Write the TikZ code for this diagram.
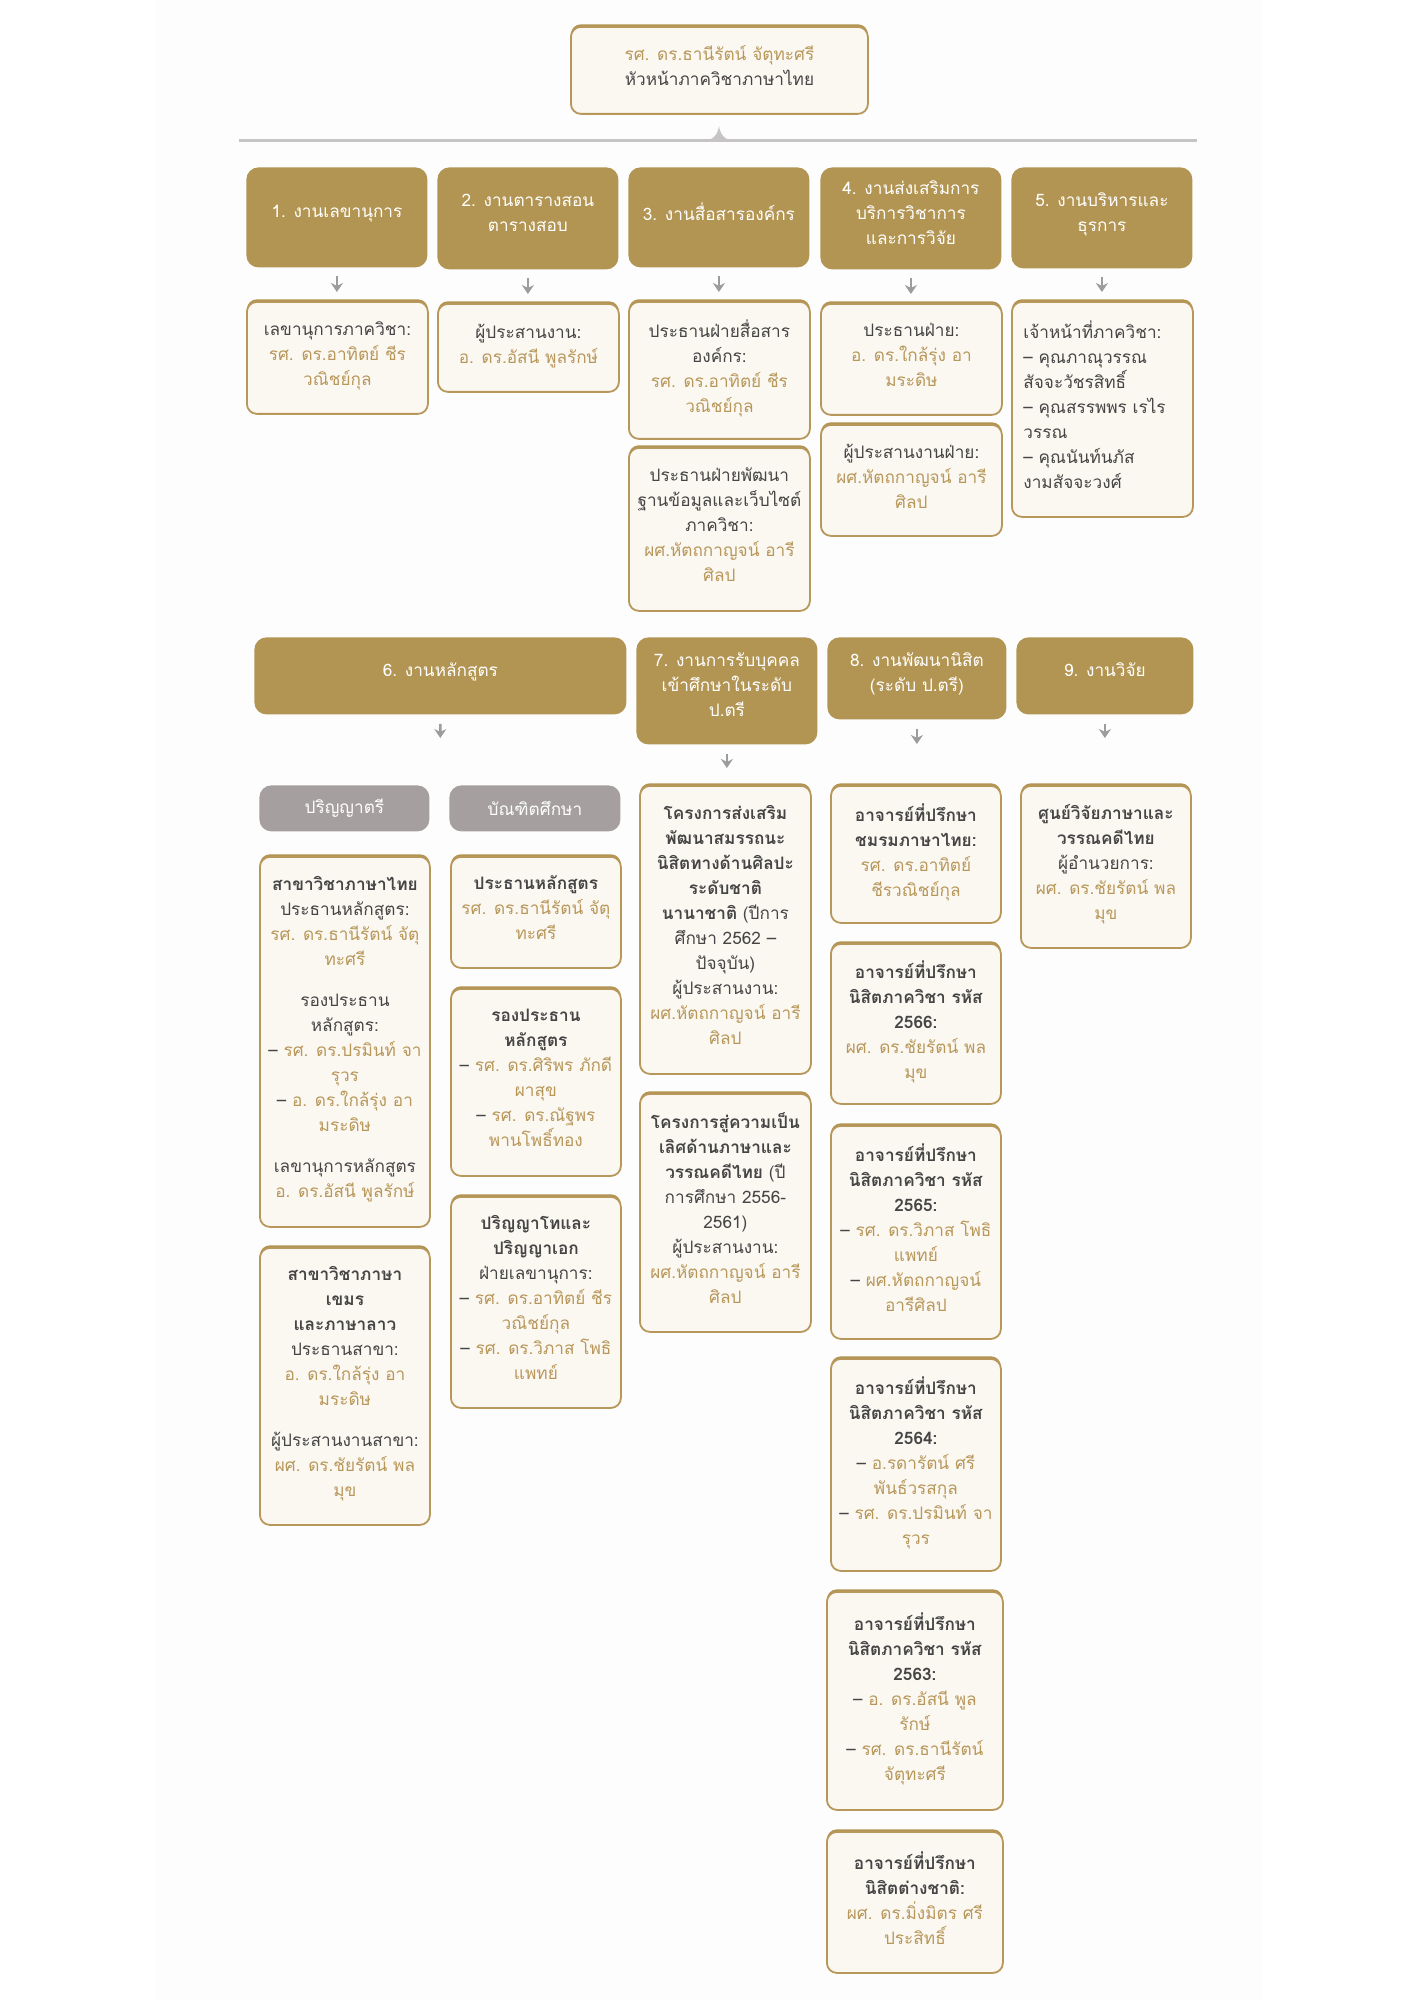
\documentclass[tikz,border=0pt]{standalone}
\usepackage{fontspec}
\setmainfont[Script=Thai]{Loma}
\usetikzlibrary{arrows.meta}
\definecolor{gold}{HTML}{B8975A}
\definecolor{goldD}{HTML}{B39452}
\definecolor{hdr}{HTML}{B39553}
\definecolor{cream}{HTML}{FBF8F2}
\definecolor{ink}{HTML}{454545}
\definecolor{tabgray}{HTML}{A59F9F}
\definecolor{arrgray}{HTML}{9C9C9C}
\definecolor{rulegray}{HTML}{C6C4C4}
\definecolor{panel}{HTML}{FDFDFD}
\newcommand\gd[1]{\textcolor{gold}{#1}}
\newcommand\bd[1]{\textbf{#1}}
\newcommand\cardfont{\fontsize{8.6}{12.5}\selectfont}
\begin{document}
\begin{tikzpicture}[x=0.5pt,y=-0.5pt,
  card/.style={draw=gold, line width=0.9pt, fill=cream, rounded corners=5pt,
    align=center, anchor=north west, inner sep=0pt, text=ink, font=\cardfont,
    execute at end node={\rule[-4.5pt]{0pt}{4.5pt}},
    preaction={fill=goldD, transform canvas={yshift=1.3pt}}},
  hdrbox/.style={fill=hdr, rounded corners=6pt, align=center, anchor=north west,
    inner sep=0pt, text=white, font=\cardfont,
    execute at end node={\rule[-6pt]{0pt}{6pt}}},
  tabbox/.style={fill=tabgray, rounded corners=6pt, align=center, anchor=north west,
    inner sep=0pt, text=white, font=\cardfont},
  arr/.style={draw=arrgray, line width=1.3pt, -{Stealth[length=4.5pt,width=6pt]}},
  sz/.style 2 args={minimum width=#1pt, minimum height=#2pt}
]
\useasboundingbox (0,0) rectangle (1414,2000);
\fill[white] (0,0) rectangle (1414,2000);
\fill[panel] (155,0) rectangle (1262,2000);

% top
\node[card, sz={148.5}{43.5}] (top) at (570,26) {\gd{รศ. ดร.ธานีรัตน์ จัตุทะศรี}\\หัวหน้าภาควิชาภาษาไทย};
\coordinate (ruleL) at (239,141);
\coordinate (ruleR) at (1197,141);
\draw[rulegray, line width=1.5pt] (ruleL) -- (ruleR);
\fill[rulegray] (703,141) .. controls (713,141) and (718,134) .. (719,126) .. controls (720,134) and (725,141) .. (735,141) -- cycle;

% row 1 headers
\node[hdrbox, sz={90.5}{50}] (h1) at (246,167) {1. งานเลขานุการ};
\node[hdrbox, sz={90.5}{51}] (h2) at (437,167) {2. งานตารางสอน\\ตารางสอบ};
\node[hdrbox, sz={90.5}{50}] (h3) at (628,167) {3. งานสื่อสารองค์กร};
\node[hdrbox, sz={90.5}{51}] (h4) at (820,167) {4. งานส่งเสริมการ\\บริการวิชาการ\\และการวิจัย};
\node[hdrbox, sz={90.5}{50.5}] (h5) at (1011,167) {5. งานบริหารและ\\ธุรการ};

% row 1 cards
\node[card, sz={90.5}{56}] (c1) at (246,301) {เลขานุการภาควิชา:\\\gd{รศ. ดร.อาทิตย์ ชีร}\\\gd{วณิชย์กุล}};
\node[card, sz={90.5}{44}] (c2) at (437,303) {ผู้ประสานงาน:\\\gd{อ. ดร.อัสนี พูลรักษ์}};
\node[card, sz={90.5}{68.5}] (c3a) at (628,301) {ประธานฝ่ายสื่อสาร\\องค์กร:\\\gd{รศ. ดร.อาทิตย์ ชีร}\\\gd{วณิชย์กุล}};
\node[card, sz={90.5}{81.5}] (c3b) at (628,447) {ประธานฝ่ายพัฒนา\\ฐานข้อมูลและเว็บไซต์\\ภาควิชา:\\\gd{ผศ.หัตถกาญจน์ อารี}\\\gd{ศิลป}};
\node[card, sz={90.5}{55.5}] (c4a) at (820,303) {ประธานฝ่าย:\\\gd{อ. ดร.ใกล้รุ่ง อา}\\\gd{มระดิษ}};
\node[card, sz={90.5}{55.5}] (c4b) at (820,424) {ผู้ประสานงานฝ่าย:\\\gd{ผศ.หัตถกาญจน์ อารี}\\\gd{ศิลป}};
\node[card, sz={90.5}{107.5}, text width=79pt, align=left] (c5) at (1011,301) {เจ้าหน้าที่ภาควิชา:\\– คุณภาณุวรรณ\\สัจจะวัชรสิทธิ์\\– คุณสรรพพร เรไร\\วรรณ\\– คุณนันท์นภัส\\งามสัจจะวงศ์};

\foreach \h/\c in {h1/c1,h2/c2,h3/c3a,h4/c4a,h5/c5}
  \draw[arr, shorten <=4pt, shorten >=4.5pt] (\h.south) -- (\h.south |- \c.north);

% row 2 headers
\node[hdrbox, sz={186}{38.5}] (h6) at (254,637) {6. งานหลักสูตร};
\node[hdrbox, sz={90.5}{53.5}] (h7) at (636,637) {7. งานการรับบุคคล\\เข้าศึกษาในระดับ\\ป.ตรี};
\node[hdrbox, sz={89.5}{41}] (h8) at (827,637) {8. งานพัฒนานิสิต\\(ระดับ ป.ตรี)};
\node[hdrbox, sz={88.5}{38.5}] (h9) at (1016,637) {9. งานวิจัย};

\node[tabbox, sz={85}{23}] (tab1) at (259,785) {ปริญญาตรี};
\node[tabbox, sz={85.5}{23}] (tab2) at (449,785) {บัณฑิตศึกษา};

% column 6
\node[card, sz={85}{185}] (c6a1) at (259,856) {\bd{สาขาวิชาภาษาไทย}\\ประธานหลักสูตร:\\\gd{รศ. ดร.ธานีรัตน์ จัตุ}\\\gd{ทะศรี}\\[8pt]รองประธาน\\หลักสูตร:\\– \gd{รศ. ดร.ปรมินท์ จา}\\\gd{รุวร}\\– \gd{อ. ดร.ใกล้รุ่ง อา}\\\gd{มระดิษ}\\[8pt]เลขานุการหลักสูตร\\\gd{อ. ดร.อัสนี พูลรักษ์}};
\node[card, sz={85}{138.5}] (c6a2) at (259,1247) {\bd{สาขาวิชาภาษา}\\\bd{เขมร}\\\bd{และภาษาลาว}\\ประธานสาขา:\\\gd{อ. ดร.ใกล้รุ่ง อา}\\\gd{มระดิษ}\\[8pt]ผู้ประสานงานสาขา:\\\gd{ผศ. ดร.ชัยรัตน์ พล}\\\gd{มุข}};
\node[card, sz={85}{55.5}] (c6b1) at (450,856) {\bd{ประธานหลักสูตร}\\\gd{รศ. ดร.ธานีรัตน์ จัตุ}\\\gd{ทะศรี}};
\node[card, sz={85}{93.5}] (c6b2) at (450,988) {\bd{รองประธาน}\\\bd{หลักสูตร}\\– \gd{รศ. ดร.ศิริพร ภักดี}\\\gd{ผาสุข}\\– \gd{รศ. ดร.ณัฐพร}\\\gd{พานโพธิ์ทอง}};
\node[card, sz={85}{105.5}] (c6b3) at (450,1196) {\bd{ปริญญาโทและ}\\\bd{ปริญญาเอก}\\ฝ่ายเลขานุการ:\\– \gd{รศ. ดร.อาทิตย์ ชีร}\\\gd{วณิชย์กุล}\\– \gd{รศ. ดร.วิภาส โพธิ}\\\gd{แพทย์}};

% column 7
\node[card, sz={85.5}{144}] (c71) at (639,785) {\bd{โครงการส่งเสริม}\\\bd{พัฒนาสมรรถนะ}\\\bd{นิสิตทางด้านศิลปะ}\\\bd{ระดับชาติ}\\\bd{นานาชาติ} (ปีการ\\ศึกษา 2562 –\\ปัจจุบัน)\\ผู้ประสานงาน:\\\gd{ผศ.หัตถกาญจน์ อารี}\\\gd{ศิลป}};
\node[card, sz={85.5}{119}] (c72) at (639,1093) {\bd{โครงการสู่ความเป็น}\\\bd{เลิศด้านภาษาและ}\\\bd{วรรณคดีไทย} (ปี\\การศึกษา 2556-\\2561)\\ผู้ประสานงาน:\\\gd{ผศ.หัตถกาญจน์ อารี}\\\gd{ศิลป}};

% column 8
\node[card, sz={85}{68.5}] (c81) at (830,785) {\bd{อาจารย์ที่ปรึกษา}\\\bd{ชมรมภาษาไทย:}\\\gd{รศ. ดร.อาทิตย์}\\\gd{ชีรวณิชย์กุล}};
\node[card, sz={85}{80}] (c82) at (830,943) {\bd{อาจารย์ที่ปรึกษา}\\\bd{นิสิตภาควิชา รหัส}\\\bd{2566:}\\\gd{ผศ. ดร.ชัยรัตน์ พล}\\\gd{มุข}};
\node[card, sz={85}{106.5}] (c83) at (830,1125) {\bd{อาจารย์ที่ปรึกษา}\\\bd{นิสิตภาควิชา รหัส}\\\bd{2565:}\\– \gd{รศ. ดร.วิภาส โพธิ}\\\gd{แพทย์}\\– \gd{ผศ.หัตถกาญจน์}\\\gd{อารีศิลป}};
\node[card, sz={85}{106}] (c84) at (830,1358) {\bd{อาจารย์ที่ปรึกษา}\\\bd{นิสิตภาควิชา รหัส}\\\bd{2564:}\\– \gd{อ.รดารัตน์ ศรี}\\\gd{พันธ์วรสกุล}\\– \gd{รศ. ดร.ปรมินท์ จา}\\\gd{รุวร}};
\node[card, sz={88}{109}] (c85) at (826,1591) {\bd{อาจารย์ที่ปรึกษา}\\\bd{นิสิตภาควิชา รหัส}\\\bd{2563:}\\– \gd{อ. ดร.อัสนี พูล}\\\gd{รักษ์}\\– \gd{รศ. ดร.ธานีรัตน์}\\\gd{จัตุทะศรี}};
\node[card, sz={88}{70.5}] (c86) at (826,1831) {\bd{อาจารย์ที่ปรึกษา}\\\bd{นิสิตต่างชาติ:}\\\gd{ผศ. ดร.มิ่งมิตร ศรี}\\\gd{ประสิทธิ์}};

% column 9
\node[card, sz={85}{81}] (c9) at (1020,785) {\bd{ศูนย์วิจัยภาษาและ}\\\bd{วรรณคดีไทย}\\ผู้อำนวยการ:\\\gd{ผศ. ดร.ชัยรัตน์ พล}\\\gd{มุข}};

% row 2 arrows
\coordinate (t6) at (440,785);
\draw[arr, shorten <=4.5pt, shorten >=23.5pt] (h6.south) -- (t6);
\draw[arr, shorten <=4.5pt, shorten >=8.5pt] (h7.south) -- (h7.south |- c71.north);
\draw[arr, shorten <=4.5pt, shorten >=20.5pt] (h8.south) -- (h8.south |- c81.north);
\draw[arr, shorten <=4.5pt, shorten >=23.5pt] (h9.south) -- (h9.south |- c9.north);
\end{tikzpicture}
\end{document}
